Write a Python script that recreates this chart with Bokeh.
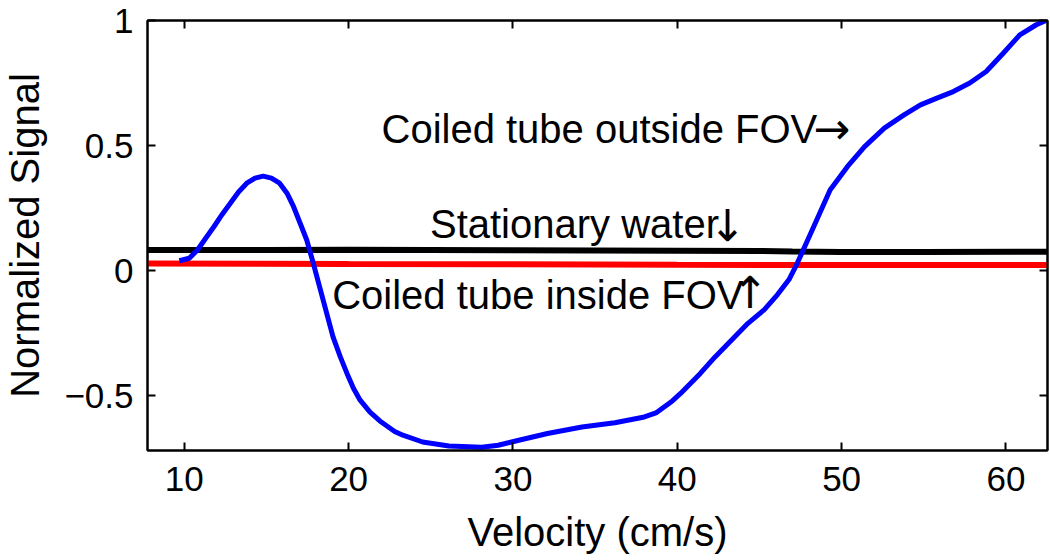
from bokeh.plotting import figure
from bokeh.models import LinearAxis, FixedTicker, Range1d
from bokeh.core.properties import value
from bokeh.embed import file_html
from bokeh.resources import INLINE

# ---- data ----
blue_x = [9.7, 10.3, 10.8, 11.3, 11.8, 12.3, 12.8, 13.3, 13.8, 14.3, 14.8, 15.3, 15.8,
          16.25, 16.65, 17.05, 17.45, 17.85, 18.45, 19.05, 19.5, 19.9, 20.3, 20.7, 21.3,
          21.9, 22.8, 23.3, 24.5, 26.1, 28.1, 29.1, 30.1, 32.1, 34.2, 36.2, 38.0, 38.7,
          39.2, 39.7, 40.2, 41.4, 42.3, 44.3, 45.3, 46.1, 46.8, 47.3, 48.3, 49.3, 50.35, 51.4, 52.6,
          53.8, 54.8, 55.8, 56.8, 57.8, 58.8, 59.85, 60.85, 61.85, 62.45]
blue_y = [0.04, 0.05, 0.083, 0.13, 0.176, 0.225, 0.27, 0.315, 0.35, 0.37, 0.378, 0.37, 0.35,
          0.31, 0.256, 0.19, 0.123, 0.03, -0.117, -0.264, -0.345, -0.41, -0.47, -0.517, -0.565,
          -0.6, -0.642, -0.657, -0.684, -0.70, -0.705, -0.697, -0.681, -0.65, -0.624, -0.607, -0.584, -0.568,
          -0.544, -0.52, -0.49, -0.41, -0.344, -0.21, -0.155, -0.095, -0.035, 0.03, 0.176, 0.323, 0.416, 0.496, 0.57,
          0.623, 0.663, 0.69, 0.716, 0.75, 0.796, 0.87, 0.943, 0.983, 1.0]

black_x = [7.76, 15, 20, 30, 40, 45, 47, 50, 55, 62.53]
black_y = [0.083, 0.083, 0.084, 0.082, 0.080, 0.079, 0.077, 0.075, 0.075, 0.076]

red_x = [7.76, 20, 30, 40, 50, 62.53]
red_y = [0.029, 0.027, 0.026, 0.024, 0.023, 0.023]

x_ticks = [10, 20, 30, 40, 50, 60]
y_ticks = [-0.5, 0, 0.5, 1]
y_tick_labels = {-0.5: "\u22120.5", 0: "0", 0.5: "0.5", 1: "1"}

ann_text = ["Coiled tube outside FOV", "Stationary water", "Coiled tube inside FOV"]
ann_x = [22.0, 24.95, 19.0]
ann_y = [0.566, 0.185, -0.095]

arrow_text = ["\u2192", "\u2193", "\u2191"]
arrow_x = [49.4, 43.06, 44.43]
arrow_y = [0.567, 0.181, -0.085]

FONT = "Liberation Sans"

p = figure(width=1050, height=560, output_backend="svg", toolbar_location=None,
           x_range=Range1d(7.76, 62.53), y_range=Range1d(-0.718, 1.0),
           min_border_left=144, min_border_top=20, min_border_right=3, min_border_bottom=110)
p.background_fill_color = "white"
p.border_fill_color = "white"
p.xgrid.visible = False
p.ygrid.visible = False
p.outline_line_color = "black"
p.outline_line_width = 2

p.line(black_x, black_y, line_color="black", line_width=6)
p.line(red_x, red_y, line_color="#ff0000", line_width=6)
p.line(blue_x, blue_y, line_color="#0000ff", line_width=5)

p.text(x=ann_x, y=ann_y, text=ann_text, text_font=value(FONT), text_font_size="40px",
       text_color="black", text_baseline="alphabetic", text_align="left")
p.text(x=arrow_x, y=arrow_y, text=arrow_text, text_font=value("DejaVu Sans"), text_font_size="44px",
       text_color="black", text_baseline="middle", text_align="center")

def style(ax, labels=True):
    ax.axis_line_color = "black"
    ax.axis_line_width = 2
    ax.major_tick_line_color = "black"
    ax.major_tick_line_width = 2
    ax.major_tick_in = 8
    ax.major_tick_out = 0
    ax.minor_tick_line_color = None
    ax.major_label_text_font = FONT
    if labels:
        ax.major_label_text_font_size = "35px"
        ax.major_label_text_color = "black"
    else:
        ax.major_label_text_font_size = "1px"
        ax.major_label_text_color = None
        ax.major_label_standoff = 0

xa = p.xaxis[0]
xa.ticker = FixedTicker(ticks=x_ticks)
style(xa)
xa.major_label_standoff = 16
xa.axis_label = "Velocity (cm/s)"
xa.axis_label_text_font = FONT
xa.axis_label_text_font_size = "40px"
xa.axis_label_text_font_style = "normal"
xa.axis_label_text_color = "black"
xa.axis_label_standoff = 16

ya = p.yaxis[0]
ya.ticker = FixedTicker(ticks=y_ticks)
ya.major_label_overrides = y_tick_labels
style(ya)
ya.major_label_standoff = 14
ya.axis_label = "Normalized Signal"
ya.axis_label_text_font = FONT
ya.axis_label_text_font_size = "40px"
ya.axis_label_text_font_style = "normal"
ya.axis_label_text_color = "black"
ya.axis_label_standoff = 14

top = LinearAxis(ticker=FixedTicker(ticks=x_ticks))
style(top, labels=False)
p.add_layout(top, "above")
right = LinearAxis(ticker=FixedTicker(ticks=y_ticks))
style(right, labels=False)
p.add_layout(right, "right")

open("out.html", "w").write(file_html(p, INLINE))
